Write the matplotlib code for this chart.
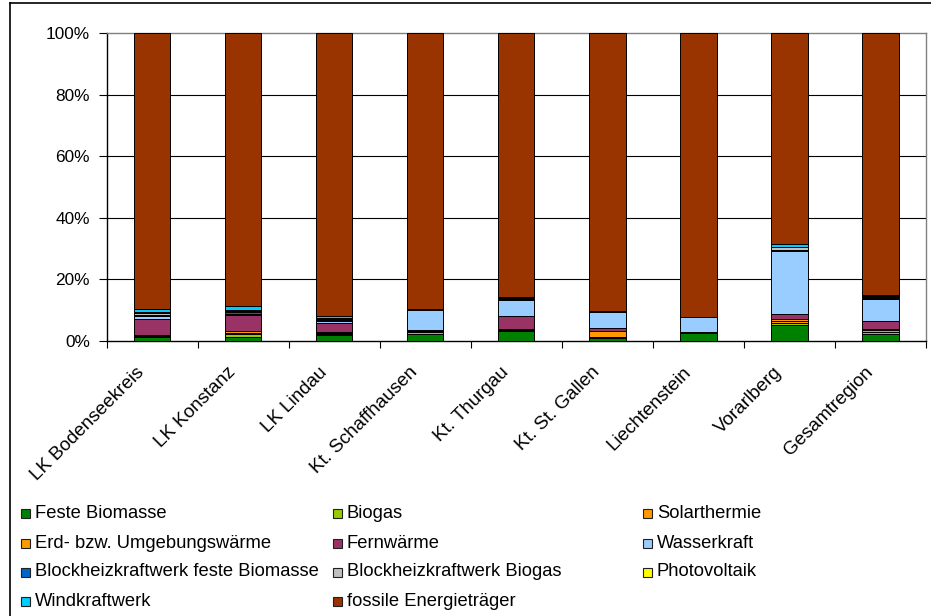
import matplotlib
matplotlib.use("Agg")
import matplotlib.pyplot as plt
from matplotlib.patches import Rectangle
from matplotlib.lines import Line2D
from matplotlib.transforms import ScaledTranslation
import numpy as np

plt.rcParams['font.family'] = ['Liberation Sans', 'DejaVu Sans']

categories = ["LK Bodenseekreis", "LK Konstanz", "LK Lindau", "Kt. Schaffhausen",
              "Kt. Thurgau", "Kt. St. Gallen", "Liechtenstein", "Vorarlberg", "Gesamtregion"]

series_names = ["Feste Biomasse", "Biogas", "Solarthermie", "Erd- bzw. Umgebungswärme",
                "Fernwärme", "Wasserkraft", "Blockheizkraftwerk feste Biomasse",
                "Blockheizkraftwerk Biogas", "Photovoltaik", "Windkraftwerk",
                "fossile Energieträger"]

feste_biomasse = [1.3, 1.2, 1.8, 2.4, 3.1, 1.1, 2.5, 5.3, 2.4]
biogas         = [0.4, 1.0, 0.4, 0.5, 0.3, 0.3, 0.2, 0.4, 0.4]
solarthermie   = [0.3, 0.5, 0.3, 0.3, 0.2, 1.7, 0.2, 0.8, 0.7]
erdwaerme      = [0.1, 0.5, 0.3, 0.4, 0.2, 0.3, 0.1, 0.8, 0.5]
fernwaerme     = [5.2, 5.2, 2.9, 0.0, 4.3, 0.8, 0.0, 1.5, 2.5]
wasserkraft    = [0.8, 0.5, 0.9, 6.4, 5.3, 5.3, 4.7, 20.5, 7.0]
bhkw_biomasse  = [0.3, 0.6, 0.3, 0.1, 0.2, 0.1, 0.0, 0.3, 0.3]
bhkw_biogas    = [0.6, 0.3, 0.4, 0.1, 0.3, 0.1, 0.0, 0.8, 0.6]
photovoltaik   = [0.4, 0.3, 0.3, 0.1, 0.2, 0.1, 0.0, 0.2, 0.2]
windkraft      = [0.9, 1.2, 0.6, 0.0, 0.1, 0.0, 0.0, 0.8, 0.3]
fossil         = [89.7, 88.7, 91.8, 89.7, 85.8, 90.2, 92.3, 68.6, 85.1]

series_values = [feste_biomasse, biogas, solarthermie, erdwaerme, fernwaerme,
                 wasserkraft, bhkw_biomasse, bhkw_biogas, photovoltaik, windkraft, fossil]

colors = ["#008000", "#99CC00", "#FF9900", "#FF9900", "#993366", "#99CCFF",
          "#0066CC", "#C0C0C0", "#FFFF00", "#00CCFF", "#993300"]

W, H = 931, 616
fig = plt.figure(figsize=(W / 100, H / 100), dpi=100)

# axes placement (pixels)
left, right, top, bottom = 106.5, 926, 33, 341
ax = fig.add_axes([left / W, 1 - bottom / H, (right - left) / W, (bottom - top) / H])

x = np.arange(len(categories))
base = np.zeros(len(categories))
for name, vals, col in zip(series_names, series_values, colors):
    v = np.array(vals, dtype=float)
    ax.bar(x, v, bottom=base, width=0.4, color=col, edgecolor="black",
           linewidth=0.7, label=name, zorder=3)
    base += v

ax.set_xlim(-0.5, len(categories) - 0.5)
ax.set_ylim(0, 100)

ax.set_yticks([0, 20, 40, 60, 80, 100])
ax.set_yticklabels([f"{t}%" for t in [0, 20, 40, 60, 80, 100]])
ax.tick_params(axis='y', direction='out', length=6, width=0.8, pad=6, labelsize=12.4)
for yv in [20, 40, 60, 80]:
    ax.axhline(yv, color="black", linewidth=0.8, zorder=1)

ax.set_xticks(np.arange(len(categories) + 1) - 0.5)
ax.set_xticklabels([])
ax.tick_params(axis='x', which='major', direction='out', length=5, width=0.8)
ax.set_xticks(x, minor=True)
ax.set_xticklabels(categories, minor=True, rotation=45, ha='right', va='center',
                   rotation_mode='anchor', fontsize=13.6)
ax.tick_params(axis='x', which='minor', length=0, pad=12)
shift = ScaledTranslation(-10 / 100, -12 / 100, fig.dpi_scale_trans)
for lbl in ax.get_xticklabels(minor=True):
    lbl.set_transform(lbl.get_transform() + shift)

for s in ['top', 'right']:
    ax.spines[s].set_color('#808080')
    ax.spines[s].set_linewidth(1.0)
for s in ['left', 'bottom']:
    ax.spines[s].set_color('black')
    ax.spines[s].set_linewidth(1.0)

# outer frame
fig.add_artist(Line2D([10 / W, 10 / W], [0, 1 - 3 / H], color='black', lw=1.2,
                      transform=fig.transFigure))
fig.add_artist(Line2D([10 / W, 1], [1 - 3 / H, 1 - 3 / H], color='black', lw=1.2,
                      transform=fig.transFigure))

# legend (row-wise, three equal-width columns)
col_x = [21, 333, 643]
row_y = [513, 543, 572, 601]
msize = 9
for i, (name, col) in enumerate(zip(series_names, colors)):
    r, c = divmod(i, 3)
    mx, my = col_x[c], row_y[r]
    fig.add_artist(Rectangle((mx / W, 1 - (my + msize / 2) / H), msize / W, msize / H,
                             facecolor=col, edgecolor='#202020', linewidth=0.8,
                             transform=fig.transFigure))
    fig.text((mx + msize + 5) / W, 1 - my / H, name, ha='left', va='center',
             fontsize=13.2)

fig.savefig("out.png", dpi=100)
